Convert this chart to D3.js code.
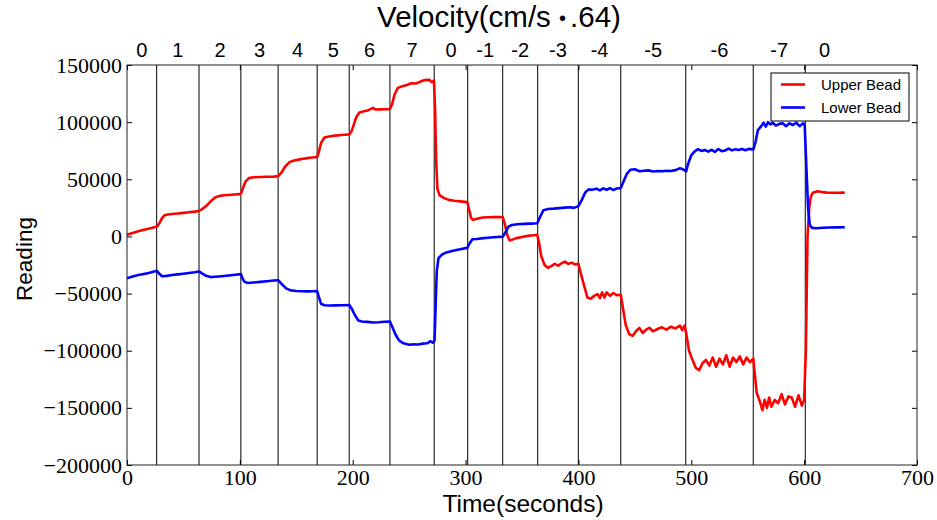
<!DOCTYPE html>
<html>
<head>
<meta charset="utf-8">
<script src="https://cdn.jsdelivr.net/npm/d3@7"></script>
<style>
  html, body { margin: 0; padding: 0; background: #fff; }
  svg { display: block; }
</style>
</head>
<body>
<svg id="chart" width="937" height="520"></svg>
<script>
// ---------------- DATA ----------------
const xTicks = [0, 100, 200, 300, 400, 500, 600, 700];
const yTicks = [-200000, -150000, -100000, -50000, 0, 50000, 100000, 150000];

// times (s) at which the velocity setting changed (vertical lines)
const boundaries = [26.3, 63.8, 100.9, 133.9, 168.5, 196.9, 233, 272.2, 301.9, 332.9, 363.9, 399.9, 437.5, 495.1, 554.9, 601];
const segmentStart = [0, 26.3, 63.8, 100.9, 133.9, 168.5, 196.9, 233, 272.2, 301.9, 332.9, 363.9, 399.9, 437.5, 495.1, 554.9, 601];
const segmentEnd = [26.3, 63.8, 100.9, 133.9, 168.5, 196.9, 233, 272.2, 301.9, 332.9, 363.9, 399.9, 437.5, 495.1, 554.9, 601, 635];
const velocityLabels = ["0", "1", "2", "3", "4", "5", "6", "7", "0", "-1", "-2", "-3", "-4", "-5", "-6", "-7", "0"];

const seriesNames = ["Upper Bead", "Lower Bead"];

const upperTime = [0,5,10,15,20,25,27,29,31,33,36,40,45,50,55,60,63.5,66,70,74,78,82,86,90,95,100,101.5,103,105,108,112,118,124,130,134,137,140,144,148,152,156,160,164,168.5,170,172,175,179,184,188,193,197,199,201,203,206,210,214,218,220,225,230,233,235,237,240,244,248,252,256,260,264,268,270,272,273,274,275,277,281,285,290,295,301.5,303,305,307,310,315,320,325,330,333,335,337,339,341,345,350,355,360,363.5,365,367,370,373,376,379,382,385,388,391,394,397,400,402,405,408,411,414,417,419,421,423,425,428,431,434,437.5,439,442,445,448,451,454,457,460,463,466,470,474,478,482,486,490,492,494,495.5,498,501,504,507,510,513,516,519,522,525,528,531,534,537,540,543,546,549,552,555,556,558,561,563,565,567,569,571,574,577,580,583,586,589,592,595,598,600,601.5,603,604.5,606,608,612,616,620,625,630,636];
const upperValue = [1500,3000,4500,5800,7000,8300,9000,12000,16000,18300,19200,19600,20100,20600,21100,21700,22300,23500,26500,30500,34000,35500,36000,36300,36700,37000,38500,43000,48000,51000,51800,52000,52200,52300,52800,56000,61000,65000,66500,67200,68000,68500,69000,69500,74000,82000,86500,87500,88200,88600,89000,89300,92000,98000,104000,108500,109500,110500,112500,111000,111200,111300,111500,116000,124000,130000,131500,132500,134000,133800,135500,136800,137000,135000,136500,110000,65000,42000,36000,33500,32000,31200,30700,30000,24000,16000,14500,15500,16500,16800,17000,16900,17000,10000,1000,-3500,-3000,-1500,-500,500,1000,1500,-5000,-17000,-25000,-27500,-26000,-24000,-25500,-23500,-22000,-24000,-23000,-24500,-24000,-32000,-43000,-53500,-54500,-52000,-50500,-54000,-49000,-53500,-49000,-52000,-49500,-51500,-51000,-60000,-78000,-85500,-87000,-83000,-80000,-84500,-81500,-80000,-83000,-81000,-79500,-81500,-79000,-80500,-78000,-82000,-78000,-85000,-100000,-108000,-115000,-117000,-111000,-108000,-113000,-106000,-114000,-107000,-112000,-104000,-114000,-106000,-110000,-105000,-112000,-106000,-110000,-107000,-118000,-137000,-145000,-152000,-143000,-150000,-141000,-149000,-143000,-146000,-138000,-147000,-140000,-141000,-149000,-139000,-148000,-143000,-100000,0,25000,35000,38500,39500,38800,38300,38200,38200,38300];

const lowerTime = [0,5,10,15,20,25,26.5,28,31,35,40,45,50,55,60,63.5,66,70,74,78,84,90,96,101,102,104,107,112,118,124,130,134,137,141,145,150,155,160,165,168.5,170,172,175,180,185,190,197,199,202,205,208,213,218,223,228,233,235,238,241,245,250,254,258,262,266,269,271,272.5,273.5,274.5,276,279,283,288,294,301.5,303,306,310,316,322,328,333,335,338,341,346,352,358,363.5,366,369,373,378,383,388,393,396,400,403,406,409,412,416,419,422,425,428,431,434,437.5,440,443,446,450,454,458,462,466,470,474,478,482,486,490,493,495.5,497,500,503,506,509,512,515,518,521,524,527,530,533,536,539,542,545,548,551,555,557,559,562,564,566,568,570,572,575,578,581,584,587,590,593,596,599,600.5,602,603.5,605,607,611,616,622,628,636];
const lowerValue = [-36500,-35000,-33800,-32800,-31700,-30400,-30000,-32000,-34800,-34500,-33800,-33200,-32600,-32000,-31300,-30600,-32000,-34500,-35600,-35300,-34800,-34200,-33500,-33000,-36000,-39500,-40800,-40300,-39800,-39200,-38600,-38300,-41500,-45500,-47200,-47700,-48000,-48100,-48000,-47800,-53000,-59000,-60200,-60500,-60300,-60200,-60000,-63000,-69000,-73500,-74500,-74800,-75300,-75100,-74700,-74500,-79000,-86000,-91000,-93500,-94800,-94300,-94500,-93800,-93500,-91700,-93000,-91000,-60000,-30000,-19000,-16000,-14000,-12800,-11500,-10000,-7000,-2500,-2200,-1500,-1000,-500,-200,3000,8500,10000,10600,11000,11200,11500,17000,23000,24000,24300,24800,25200,25500,25000,26500,32000,38500,41200,40800,41800,40300,42000,40800,42200,40600,42000,42300,48000,55000,58300,58800,57000,57500,57800,56800,57200,57000,57500,57300,58000,59600,58500,57000,63000,71000,74500,76300,74800,75600,74200,75800,74000,76500,74600,75200,76800,75300,76200,75600,76500,75400,76600,76200,83000,93000,96500,99500,96000,100000,98000,99500,97000,98500,99000,96500,99000,97500,99500,96500,99000,97500,60000,25000,10000,7500,7200,7600,7800,7900,8000];

// ---------------- LAYOUT ----------------
const svg = d3.select("#chart");
const m = { left: 127, top: 65 };
const pw = 917 - m.left, ph = 465 - m.top;

const x = d3.scaleLinear().domain([0, 700]).range([0, pw]);
const y = d3.scaleLinear().domain([-200000, 150000]).range([ph, 0]);

const g = svg.append("g").attr("transform", `translate(${m.left},${m.top})`);

const serif = "'Liberation Serif', 'Times New Roman', serif";
const sans = "'Liberation Sans', Arial, Helvetica, sans-serif";
const fmt = d => d < 0 ? "\u2212" + Math.abs(d) : String(d);

// vertical boundary lines
g.selectAll("line.bound").data(boundaries).enter().append("line")
  .attr("class", "bound")
  .attr("x1", d => x(d)).attr("x2", d => x(d))
  .attr("y1", 0).attr("y2", ph)
  .attr("stroke", "#000").attr("stroke-width", 1);

// data lines
const line = d3.line().x(d => x(d[0])).y(d => y(d[1]));
const upper = d3.zip(upperTime, upperValue);
const lower = d3.zip(lowerTime, lowerValue);
g.append("path").datum(upper).attr("d", line)
  .attr("fill", "none").attr("stroke", "#ff0000").attr("stroke-width", 2.6).attr("stroke-linejoin", "round");
g.append("path").datum(lower).attr("d", line)
  .attr("fill", "none").attr("stroke", "#0000ff").attr("stroke-width", 2.6).attr("stroke-linejoin", "round");

// axes
const axB = g.append("g").attr("transform", `translate(0,${ph})`)
  .call(d3.axisBottom(x).tickValues(xTicks).tickFormat(fmt).tickSizeInner(-5).tickSizeOuter(0).tickPadding(4));
const axL = g.append("g")
  .call(d3.axisLeft(y).tickValues(yTicks).tickFormat(fmt).tickSizeInner(-5).tickSizeOuter(0).tickPadding(5));
const axT = g.append("g")
  .call(d3.axisTop(x).tickValues(xTicks).tickFormat("").tickSizeInner(-5).tickSizeOuter(0));
const axR = g.append("g").attr("transform", `translate(${pw},0)`)
  .call(d3.axisRight(y).tickValues(yTicks).tickFormat("").tickSizeInner(-5).tickSizeOuter(0));
[axB, axL, axT, axR].forEach(a => {
  a.select(".domain").remove();
  a.selectAll(".tick line").attr("stroke", "#000");
  a.selectAll("text").attr("font-family", serif).attr("font-size", 22).attr("fill", "#000");
});

// frame
g.append("rect").attr("x", 0).attr("y", 0).attr("width", pw).attr("height", ph)
  .attr("fill", "none").attr("stroke", "#222").attr("stroke-width", 1);

// velocity labels on top
g.selectAll("text.vel").data(velocityLabels).enter().append("text")
  .attr("class", "vel")
  .attr("x", (d, i) => x((segmentStart[i] + segmentEnd[i]) / 2))
  .attr("y", -8)
  .attr("text-anchor", "middle")
  .attr("font-family", sans).attr("font-size", 20).attr("fill", "#000")
  .text(d => d);

// title
const title = svg.append("text").attr("x", 499).attr("y", 27).attr("text-anchor", "middle")
  .attr("font-family", sans).attr("font-size", 29.5).attr("fill", "#000");
title.append("tspan").text("Velocity(cm/s ");
title.append("tspan").attr("font-size", 20).attr("dy", -2).text("\u2022\u2009");
title.append("tspan").attr("dy", 2).text(".64)");

// axis titles
svg.append("text").attr("x", 523).attr("y", 512).attr("text-anchor", "middle")
  .attr("font-family", sans).attr("font-size", 24.5).attr("fill", "#000")
  .text("Time(seconds)");
svg.append("text").attr("transform", "translate(32,259) rotate(-90)").attr("text-anchor", "middle")
  .attr("font-family", sans).attr("font-size", 22.5).attr("fill", "#000")
  .text("Reading");

// legend
const leg = g.append("g").attr("transform", `translate(${771 - m.left},${73 - m.top})`);
leg.append("rect").attr("width", 138).attr("height", 48)
  .attr("fill", "#fff").attr("stroke", "#000").attr("stroke-width", 1);
const legColors = ["#ff0000", "#0000ff"];
seriesNames.forEach((name, i) => {
  const yy = 11.5 + i * 23;
  leg.append("line").attr("x1", 10).attr("x2", 34).attr("y1", yy).attr("y2", yy)
    .attr("stroke", legColors[i]).attr("stroke-width", 2.6);
  leg.append("text").attr("x", 50).attr("y", yy + 5.5)
    .attr("font-family", sans).attr("font-size", 15).attr("fill", "#000").text(name);
});
</script>
</body>
</html>
